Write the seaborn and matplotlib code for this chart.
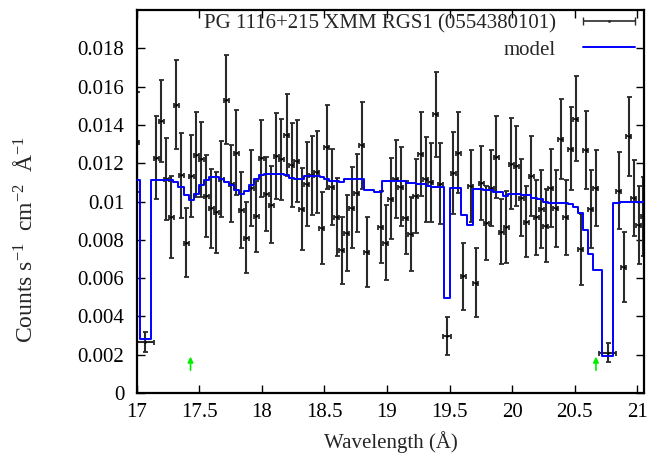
import numpy as np
import matplotlib
matplotlib.use('Agg')
import matplotlib.pyplot as plt
import seaborn as sns
from matplotlib.container import ErrorbarContainer
from matplotlib.legend_handler import HandlerErrorbar

# Spectre RGS1 : longueur d'onde (Å), flux, erreur
wave = [17.0, 17.069, 17.157, 17.197, 17.237, 17.277, 17.317, 17.357, 17.397,
        17.437, 17.477, 17.517, 17.557, 17.597, 17.637, 17.677, 17.717, 17.757,
        17.797, 17.837, 17.877, 17.917, 17.957, 17.997, 18.037, 18.077, 18.117,
        18.157, 18.197, 18.237, 18.277, 18.317, 18.357, 18.397, 18.437, 18.477,
        18.517, 18.557, 18.597, 18.637, 18.677, 18.717, 18.757, 18.797, 18.837,
        18.949, 18.989, 19.029, 19.069, 19.109, 19.149, 19.189, 19.229, 19.269,
        19.309, 19.349, 19.389, 19.427, 19.48, 19.531, 19.571, 19.611, 19.669,
        19.709, 19.752, 19.792, 19.832, 19.872, 19.912, 19.952, 19.992, 20.032,
        20.072, 20.112, 20.152, 20.192, 20.232, 20.269, 20.307, 20.349, 20.389,
        20.429, 20.469, 20.509, 20.549, 20.589, 20.629, 20.669, 20.763, 20.853,
        20.893, 20.933, 20.973, 21.013, 21.048]
counts = [0.0131, 0.00268, 0.0123, 0.0142, 0.0112, 0.0092, 0.01506, 0.01137,
          0.00786, 0.01132, 0.01245, 0.0122, 0.01028, 0.00964, 0.00943, 0.0112,
          0.01532, 0.01094, 0.01256, 0.00955, 0.00812, 0.01071, 0.00923,
          0.01225, 0.01038, 0.00984, 0.01238, 0.01221, 0.01346, 0.0119,
          0.01212, 0.0096, 0.01094, 0.01137, 0.01155, 0.00862, 0.01284,
          0.01077, 0.0092, 0.00746, 0.00836, 0.00967, 0.01045, 0.01294,
          0.00737, 0.00868, 0.00786, 0.01016, 0.01117, 0.01077, 0.00915,
          0.0083, 0.0103, 0.01247, 0.01117, 0.011, 0.01456, 0.01094, 0.00297,
          0.01149, 0.01256, 0.0061, 0.01082, 0.00576, 0.01097, 0.00889,
          0.01071, 0.01233, 0.00842, 0.00868, 0.01198, 0.01184, 0.01021,
          0.00894, 0.01134, 0.00917, 0.0096, 0.00873, 0.01071, 0.00964,
          0.01325, 0.00917, 0.01276, 0.01433, 0.00751, 0.01268, 0.0096,
          0.01071, 0.00212, 0.01056, 0.00659, 0.01341, 0.01019, 0.00877,
          0.00923]
counts_err = [0.0026, 0.00053, 0.00218, 0.00215, 0.00214, 0.00213, 0.00234,
              0.00221, 0.00179, 0.00215, 0.0022, 0.00196, 0.00213, 0.00206,
              0.0021, 0.00198, 0.00232, 0.00199, 0.0022, 0.00197, 0.00187,
              0.00199, 0.00186, 0.002, 0.00193, 0.00202, 0.00222, 0.00212,
              0.00213, 0.00218, 0.00216, 0.00213, 0.00219, 0.00206, 0.00213,
              0.00187, 0.0022, 0.00198, 0.00203, 0.00176, 0.00198, 0.00211,
              0.00203, 0.00226, 0.00184, 0.00187, 0.00197, 0.00212, 0.00205,
              0.00206, 0.00191, 0.00192, 0.00194, 0.00218, 0.00222, 0.00205,
              0.00222, 0.00212, 0.00099, 0.00215, 0.00209, 0.00174, 0.00187,
              0.0018, 0.00192, 0.00193, 0.002, 0.00212, 0.0017, 0.00188,
              0.00239, 0.00208, 0.002, 0.00185, 0.00207, 0.00194, 0.00205,
              0.0019, 0.00202, 0.00199, 0.00209, 0.00196, 0.00218, 0.00222,
              0.00184, 0.00204, 0.00205, 0.002, 0.0005, 0.00201, 0.00183,
              0.00206, 0.002, 0.00204, 0.00205]
# demi-largeur des bins (les bins larges sont aux raies)
wave_err = [0.02] * len(wave)
wave_err[1] = 0.07
wave_err[58] = 0.033
wave_err[88] = 0.065

# Modèle (histogramme : bord gauche du bin, niveau)
model_edges = [16.95, 17.024, 17.112, 17.291, 17.331, 17.379, 17.419, 17.459,
               17.499, 17.539, 17.579, 17.659, 17.699, 17.739, 17.779, 17.821,
               17.859, 17.899, 17.939, 17.979, 18.019, 18.173, 18.219, 18.259,
               18.333, 18.467, 18.499, 18.533, 18.616, 18.656, 18.816, 18.896,
               18.963, 19.149, 19.229, 19.309, 19.349, 19.453, 19.507, 19.592,
               19.64, 19.691, 19.771, 19.851, 19.925, 19.965, 20.072, 20.152,
               20.2, 20.248, 20.288, 20.368, 20.448, 20.488, 20.528, 20.568,
               20.608, 20.648, 20.715, 20.803, 20.861, 21.1]
model_levels = [0.01111, 0.0028, 0.01111, 0.0110, 0.01077, 0.01033, 0.0101,
                0.01038, 0.01085, 0.01115, 0.01129, 0.0112, 0.01102, 0.01085,
                0.01059, 0.01037, 0.01054, 0.01085, 0.01117, 0.01137, 0.01146,
                0.01137, 0.01125, 0.0112, 0.01132, 0.01129, 0.01117, 0.01106,
                0.01102, 0.0112, 0.01059, 0.0105, 0.01106, 0.01097, 0.0109,
                0.01082, 0.01078, 0.00499, 0.01073, 0.00932, 0.0088, 0.01063,
                0.01058, 0.0105, 0.01028, 0.01042, 0.01033, 0.0102, 0.01012,
                0.00998, 0.0099, 0.00993, 0.00988, 0.00972, 0.00941, 0.00854,
                0.00725, 0.00642, 0.00193, 0.0099, 0.00998, 0.00998]

# Raies identifiées (flèches vertes)
line_pos = [17.43, 20.67]

xticks = [17, 17.5, 18, 18.5, 19, 19.5, 20, 20.5, 21]
yticks = [0, 0.002, 0.004, 0.006, 0.008, 0.01, 0.012, 0.014, 0.016, 0.018]

sns.set_theme(style='ticks')
plt.rcParams['font.family'] = ['Liberation Serif', 'DejaVu Serif']
plt.rcParams['mathtext.fontset'] = 'custom'
plt.rcParams['mathtext.rm'] = 'Liberation Serif'
plt.rcParams['mathtext.it'] = 'Liberation Serif:italic'

fig = plt.figure(figsize=(6.48, 4.55), dpi=100)
ax = fig.add_axes([0.211, 0.136, 0.783, 0.842])

ax.errorbar(wave, counts, xerr=wave_err, yerr=counts_err, fmt='none',
            ecolor='#2a2a2a', elinewidth=1.5, capsize=1.8, capthick=1.3,
            zorder=2)
sns.scatterplot(x=wave, y=counts, color='black', s=3, linewidth=0, ax=ax,
                zorder=3)
sns.lineplot(x=model_edges, y=model_levels, drawstyle='steps-post',
             color='blue', lw=1.4, ax=ax, estimator=None, sort=False,
             zorder=4)
model_line = ax.lines[-1]

for xp in line_pos:
    ax.annotate('', xy=(xp, 0.00205), xytext=(xp, 0.00105),
                arrowprops=dict(arrowstyle='-|>', color='#00ee00', lw=1.2,
                                mutation_scale=8))

# proxy pour la légende façon gnuplot
proxy = ax.errorbar([np.nan], [np.nan], xerr=[0.02], fmt='.', color='#2a2a2a',
                    markersize=2, elinewidth=1.2, capsize=3)
ax.legend([proxy, model_line],
          ['PG 1116+215 XMM RGS1 (0554380101)', 'model'],
          loc='upper right', bbox_to_anchor=(0.99, 1.0), frameon=False,
          markerfirst=False, fontsize=15,
          handlelength=2.5, handletextpad=1.3, labelspacing=0.3,
          borderaxespad=0.0, borderpad=0.2,
          handler_map={ErrorbarContainer: HandlerErrorbar(xerr_size=1.25)})

ax.set_xlim(17, 21.055)
ax.set_ylim(0, 0.02)
ax.set_xticks(xticks)
ax.set_xticklabels([f'{v:g}' for v in xticks])
ax.set_yticks(yticks)
ax.set_yticklabels([f'{v:g}' for v in yticks])
ax.tick_params(direction='in', top=True, right=True, length=6, width=1,
               labelsize=15, color='black', labelcolor='black')
ax.tick_params(axis='y', pad=9)
ax.tick_params(axis='x', pad=7)
for sp in ax.spines.values():
    sp.set_linewidth(1.6)
    sp.set_color('black')
    sp.set_visible(True)

ax.set_xlabel('Wavelength (Å)', fontsize=15)
ax.set_ylabel(r'Counts s$^{-1}$  cm$^{-2}$  Å$^{-1}$', fontsize=17)
ax.xaxis.set_label_coords(0.5, -0.1)
ax.yaxis.set_label_coords(-0.197, 0.40)

plt.savefig('out.png', dpi=100)
